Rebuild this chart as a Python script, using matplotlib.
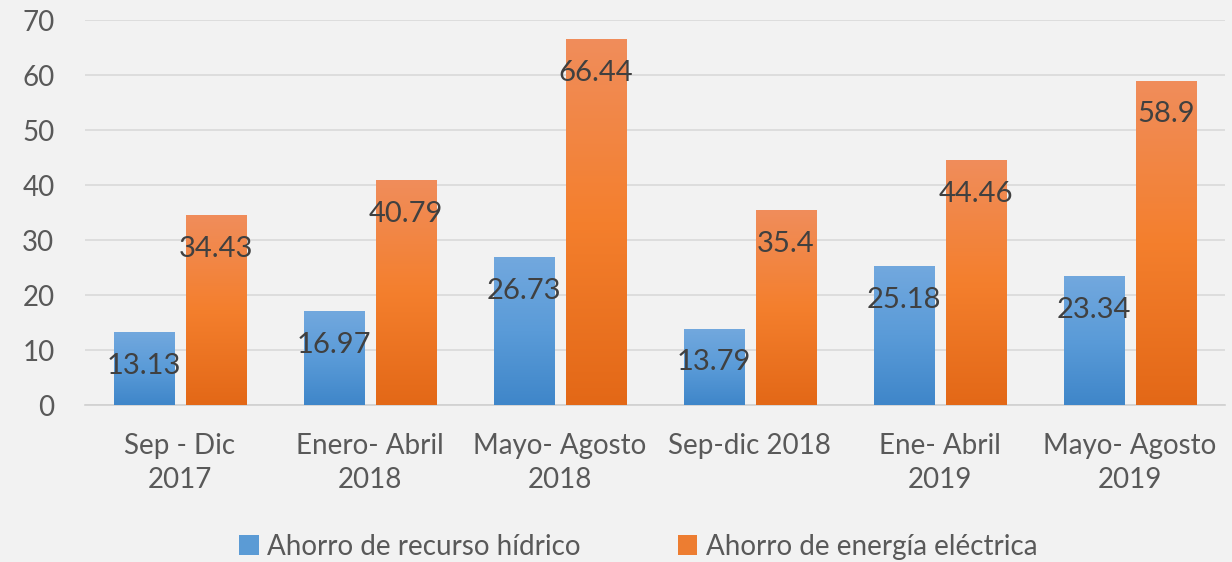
import matplotlib.pyplot as plt
import numpy as np
from matplotlib.colors import LinearSegmentedColormap
from matplotlib.patches import Patch

periodos = ["Sep - Dic\n2017", "Enero- Abril\n2018", "Mayo- Agosto\n2018",
            "Sep-dic 2018", "Ene- Abril\n2019", "Mayo- Agosto\n2019"]
hidrico = [13.13, 16.97, 26.73, 13.79, 25.18, 23.34]
electrica = [34.43, 40.79, 66.44, 35.4, 44.46, 58.9]
series_names = ["Ahorro de recurso hídrico", "Ahorro de energía eléctrica"]

plt.rcParams['font.family'] = ['Lato', 'DejaVu Sans']

bg = "#f2f2f2"
fig = plt.figure(figsize=(12.32, 5.62), dpi=100, facecolor=bg)
ax = fig.add_axes([0.069, 0.279, 0.925, 0.685])
ax.set_facecolor(bg)

blue_cm = LinearSegmentedColormap.from_list("b", ["#3f86c9", "#5a9bd8", "#72a8de"])
orange_cm = LinearSegmentedColormap.from_list("o", ["#e36817", "#f47f2d", "#f08d5b"])
grad = np.linspace(0, 1, 256).reshape(-1, 1)

x = np.arange(len(periodos))
w = 0.316
off = 0.19

for vals, dx, cm in [(hidrico, -off, blue_cm), (electrica, off, orange_cm)]:
    for xi, v in zip(x, vals):
        x0 = xi + dx - w / 2
        ax.imshow(grad, cmap=cm, origin="lower", aspect="auto",
                  extent=(x0, x0 + w, 0, v), zorder=3)
        ax.text(xi + dx, v - 6, f"{v:g}", ha="center", va="center",
                fontsize=21, color="#404040", zorder=4)

ax.set_xlim(-0.5, len(periodos) - 0.5)
ax.set_ylim(0, 70)
ax.set_yticks(range(0, 71, 10))
ax.yaxis.grid(True, color="#d9d9d9", linewidth=1.2, zorder=0)
ax.set_axisbelow(True)
for s in ["top", "right", "left"]:
    ax.spines[s].set_visible(False)
ax.spines["bottom"].set_color("#d0d0d0")
ax.spines["bottom"].set_linewidth(1.2)
ax.tick_params(axis="both", length=0, labelsize=20, colors="#595959")
ax.tick_params(axis="y", pad=22)
ax.set_xticks(x)
ax.set_xticklabels(periodos, fontsize=20, color="#595959", linespacing=1.4)
ax.tick_params(axis="x", pad=20)

handles = [Patch(facecolor="#5b9bd5"), Patch(facecolor="#ed7d31")]
fig.legend(handles, series_names, loc="center", bbox_to_anchor=(0.518, 0.027),
           ncol=2, frameon=False, fontsize=20, labelcolor="#595959",
           handlelength=0.7, handleheight=0.7, handletextpad=0.3, columnspacing=3.5)

fig.savefig("out.png", dpi=100, facecolor=bg)
